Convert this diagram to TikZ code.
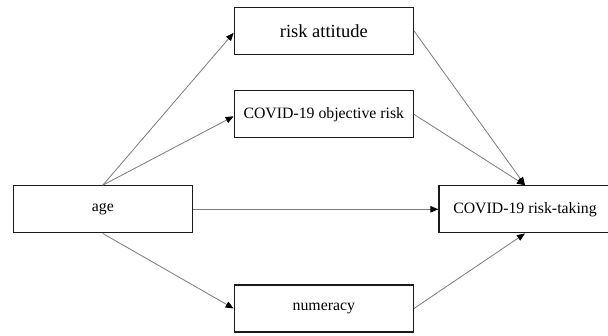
\documentclass[tikz,border=0pt]{standalone}
\usepackage{fontspec}
\setmainfont{Liberation Serif}
\usepackage{xcolor}
\usepackage{tikz}
\usetikzlibrary{arrows.meta}
\definecolor{linec}{HTML}{7A7A7A}
\definecolor{framec}{HTML}{1A1A1A}
\tikzset{
  ar/.style={-{Triangle[length=8pt,width=6.5pt,color=black]},line width=0.8pt,linec},
  box/.style={draw=framec,line width=1.3pt,fill=white,minimum width=179pt,minimum height=47pt,
    inner sep=0pt,font=\fontsize{15.8}{18}\selectfont}
}
\begin{document}
\begin{tikzpicture}[x=1pt,y=-1pt]
\useasboundingbox (0,0) rectangle (608,335);
\node[box] (age) at (102.8,209.3) {age};
\node[box,font=\fontsize{18.5}{21}\selectfont] (att) at (323.8,30.8) {risk attitude};
\node[box] (obj) at (323.8,114.3) {COVID-19 objective risk};
\node[box] (num) at (323.8,308.5) {numeracy};
\node[box,minimum width=172pt] (take) at (525,209.3) {COVID-19 risk-taking};
% paths from age
\draw[ar] (age.north) -- ([yshift=-2pt]att.west);
\draw[ar] (age.north) -- ([yshift=-2pt]obj.west);
\draw[ar] (age.east) -- (take.west);
\draw[ar] (age.south) -- (num.west);
% paths into risk-taking
\draw[ar] (att.east) -- (take.north);
\draw[ar] (obj.east) -- (take.north);
\draw[ar] (num.east) -- (take.south);
\end{tikzpicture}
\end{document}
